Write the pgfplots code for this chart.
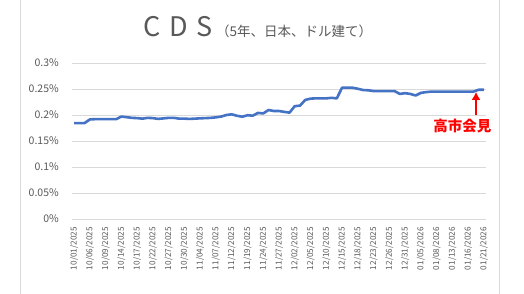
\documentclass[border=0pt]{standalone}
\usepackage{pgfplots}
\pgfplotsset{compat=1.18}
\usetikzlibrary{arrows.meta}
\usepackage{fontspec}
\setmainfont{Noto Sans CJK JP}
\newfontfamily\tickfont{Noto Sans CJK JP}
\definecolor{xlblue}{RGB}{68,114,196}
\definecolor{xlgrid}{RGB}{217,217,217}
\definecolor{xltext}{RGB}{89,89,89}
\pgfplotstableread{
x y
0 0.1845
1 0.1845
2 0.1845
3 0.1915
4 0.192
5 0.192
6 0.192
7 0.192
8 0.192
9 0.197
10 0.1958
11 0.1945
12 0.194
13 0.193
14 0.1945
15 0.194
16 0.1925
17 0.1935
18 0.1945
19 0.1945
20 0.193
21 0.193
22 0.1925
23 0.193
24 0.1936
25 0.194
26 0.1945
27 0.1955
28 0.197
29 0.200
30 0.2013
31 0.1985
32 0.1967
33 0.1995
34 0.1987
35 0.204
36 0.203
37 0.2096
38 0.2077
39 0.2077
40 0.206
41 0.2045
42 0.217
43 0.218
44 0.229
45 0.2315
46 0.232
47 0.232
48 0.232
49 0.233
50 0.232
51 0.2525
52 0.2525
53 0.2525
54 0.2505
55 0.248
56 0.2475
57 0.246
58 0.246
59 0.246
60 0.246
61 0.246
62 0.2405
63 0.242
64 0.2405
65 0.2375
66 0.2425
67 0.244
68 0.245
69 0.245
70 0.245
71 0.245
72 0.245
73 0.245
74 0.245
75 0.245
76 0.245
77 0.2485
78 0.2485
}\cds
\begin{document}
\begin{tikzpicture}[x=1pt,y=1pt]
\useasboundingbox (0pt,0pt) rectangle (524pt,294pt);
\draw[xlgrid,line width=0.8pt] (20pt,-5pt) -- (20pt,300pt);
\draw[xlgrid,line width=0.8pt] (499pt,-5pt) -- (499pt,300pt);
\node[anchor=base west,text=xltext,inner sep=0pt] at (143pt,257pt)
  {\fontsize{27}{30}\selectfont C\hspace{0.33em}D\hspace{0.33em}S\hspace{0.12em}\fontsize{13.5}{15}\selectfont （5年、日本、ドル建て）};
\begin{axis}[
  at={(72pt,75pt)}, anchor=south west,
  width=414pt, height=156pt, scale only axis,
  xmin=-0.4, xmax=78.4, ymin=0, ymax=0.3,
  axis line style={draw=none},
  axis x line*=bottom,
  x axis line style={draw=xlgrid, line width=0.8pt},
  ytick={0,0.05,0.1,0.15,0.2,0.25,0.3},
  yticklabels={0\%,0.05\%,0.1\%,0.15\%,0.2\%,0.25\%,0.3\%},
  ymajorgrids, grid style={xlgrid, line width=0.8pt},
  tick style={draw=none},
  xtick={0,3,...,78},
  xticklabels={10/01/2025,10/06/2025,10/09/2025,10/14/2025,10/17/2025,10/22/2025,10/27/2025,10/30/2025,11/04/2025,11/07/2025,11/12/2025,11/19/2025,11/24/2025,11/27/2025,12/02/2025,12/05/2025,12/10/2025,12/15/2025,12/18/2025,12/23/2025,12/26/2025,12/31/2025,01/05/2026,01/08/2026,01/13/2026,01/16/2026,01/21/2026},
  x tick label style={rotate=90, anchor=east, font=\tickfont\fontsize{8.2}{9}\selectfont, text=xltext, inner sep=1pt},
  y tick label style={font=\tickfont\fontsize{10.5}{12}\selectfont, text=xltext, inner sep=1pt},
  yticklabel style={xshift=-12pt},
  xticklabel style={xshift=-7pt},
  /pgf/number format/assume math mode=true,
  clip=false,
]
\addplot[xlblue, line width=2.6pt, line join=round] table[x=x,y=y] {\cds};
\draw[red, line width=2.4pt, -{Latex[length=8pt,width=9pt]}] (axis cs:76.5,0.1995) -- (axis cs:76.5,0.2445);
\node[text=red, font=\bfseries\fontsize{14.5}{16}\selectfont, inner sep=0pt] at (axis cs:73.9,0.1788) {高市会見};
\end{axis}
\end{tikzpicture}
\end{document}
